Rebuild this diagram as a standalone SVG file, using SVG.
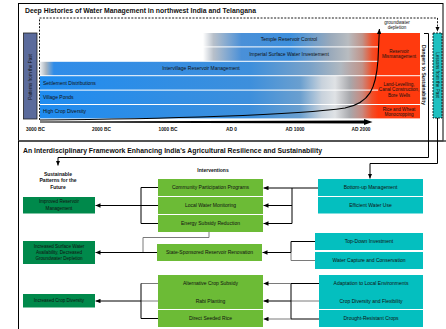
<svg xmlns="http://www.w3.org/2000/svg" width="446" height="329" viewBox="0 0 446 329">
  <defs>
    <style>
      text { font-family: "Liberation Sans", Arial, sans-serif; fill: #111; }
      .title { font-size: 6.6px; font-weight: bold; }
      .lbl { font-size: 5px; }
      .small { font-size: 4.6px; }
      .bold { font-weight: bold; }
      .axis { font-size: 4.8px; font-weight: bold; }
      .mid { text-anchor: middle; }
      .ln { fill: none; stroke: #000; stroke-width: 1; }
      .gray { fill: none; stroke: #7a7a7a; stroke-width: 1; }
      .dash { fill: none; stroke: #000; stroke-width: 0.9; stroke-dasharray: 2 1.4; }
      .green { fill: #6cbb36; }
      .dkgreen { fill: #00894b; }
      .teal { fill: #04bfbf; }
      .red { fill: #ff3a0e; }
    </style>
    <marker id="arr" markerUnits="userSpaceOnUse" markerWidth="5" markerHeight="4.4" refX="5" refY="2.2" orient="auto">
      <path d="M0,0 L5,2.2 L0,4.4 z" fill="#000"/>
    </marker>
    <!-- band fills: blue periods fading to grey and then red near the present -->
    <linearGradient id="gLow" gradientUnits="userSpaceOnUse" x1="40" y1="0" x2="378" y2="0">
      <stop offset="0" stop-color="#1f8cf0"/>
      <stop offset="0.62" stop-color="#3d8fdc"/>
      <stop offset="0.77" stop-color="#6a9fcf"/>
      <stop offset="0.834" stop-color="#c8d2dc"/>
      <stop offset="0.873" stop-color="#dfe2e5"/>
      <stop offset="0.917" stop-color="#a8a8ac"/>
      <stop offset="0.953" stop-color="#c88a80"/>
      <stop offset="0.982" stop-color="#f0502a"/>
      <stop offset="1" stop-color="#ff3a10"/>
    </linearGradient>
    <linearGradient id="gMid" gradientUnits="userSpaceOnUse" x1="40" y1="0" x2="378" y2="0">
      <stop offset="0" stop-color="#eef0f2"/>
      <stop offset="0.018" stop-color="#a8b4c0"/>
      <stop offset="0.041" stop-color="#2f8ce8"/>
      <stop offset="0.62" stop-color="#3d8fdc"/>
      <stop offset="0.8" stop-color="#7aa2c8"/>
      <stop offset="0.89" stop-color="#b0b8c0"/>
      <stop offset="0.953" stop-color="#c0948a"/>
      <stop offset="0.982" stop-color="#f0502a"/>
      <stop offset="1" stop-color="#ff3a10"/>
    </linearGradient>
    <linearGradient id="gTop" gradientUnits="userSpaceOnUse" x1="203" y1="0" x2="378" y2="0">
      <stop offset="0" stop-color="#ffffff"/>
      <stop offset="0.06" stop-color="#b8c0ca"/>
      <stop offset="0.22" stop-color="#4a90d8"/>
      <stop offset="0.5" stop-color="#3d8fdc"/>
      <stop offset="0.73" stop-color="#9aaabb"/>
      <stop offset="0.83" stop-color="#b8bcc0"/>
      <stop offset="0.91" stop-color="#c0948a"/>
      <stop offset="0.966" stop-color="#f0502a"/>
      <stop offset="1" stop-color="#ff3a10"/>
    </linearGradient>
  </defs>

  <rect width="446" height="329" fill="#fff"/>

  <!-- upper panel: timeline -->
  <g id="history-panel">
    <rect x="18.5" y="3.5" width="424.5" height="137.5" fill="none" stroke="#000" stroke-width="1"/>
    <text class="title" x="25" y="12.6" textLength="231" lengthAdjust="spacingAndGlyphs">Deep Histories of Water Management in northwest India and Telangana</text>
  </g>

  <g id="bands">
    <rect x="203" y="33" width="175" height="13.4" fill="url(#gTop)"/>
    <rect x="203" y="47.4" width="175" height="13.4" fill="url(#gTop)"/>
    <rect x="40" y="61.8" width="338" height="13.4" fill="url(#gMid)"/>
    <rect x="40" y="76.2" width="338" height="13.4" fill="url(#gLow)"/>
    <rect x="40" y="90.6" width="338" height="13.4" fill="url(#gLow)"/>
    <rect x="40" y="105" width="338" height="13.4" fill="url(#gLow)"/>
    <text class="lbl mid" x="289" y="41.4">Temple Reservoir Control</text>
    <text class="lbl mid" x="289" y="55.8">Imperial Surface Water Investement</text>
    <text class="lbl mid" x="201" y="70.2">Intervillage Reservoir Management</text>
    <text class="lbl" x="43" y="84.6">Settlement Distributions</text>
    <text class="lbl" x="43" y="99">Village Ponds</text>
    <text class="lbl" x="43" y="113.4">High Crop Diversity</text>
  </g>

  <g id="patterns-from-the-past">
    <rect x="23.5" y="33" width="13.5" height="86" fill="#5b6b9c" stroke="#222" stroke-width="0.8"/>
    <text class="small mid" transform="translate(31.8,77) rotate(-90)">Patterns from the Past</text>
  </g>

  <g id="dangers">
    <rect class="red" x="378" y="33" width="42" height="42.2"/>
    <rect class="red" x="378" y="76.2" width="42" height="27.8"/>
    <rect class="red" x="378" y="105" width="42" height="13.4"/>
    <text class="small mid" x="399" y="52.5">Reservoir</text>
    <text class="small mid" x="399" y="58.3">Mismanagement</text>
    <text class="small mid" x="399" y="85.5">Land-Levelling,</text>
    <text class="small mid" x="399" y="91.3">Canal Construction,</text>
    <text class="small mid" x="399" y="97.1">Bore Wells</text>
    <text class="small mid" x="399" y="110.5">Rice and Wheat</text>
    <text class="small mid" x="399" y="116.3">Monocropping</text>
    <text class="small mid" x="397" y="23.6">groundwater</text>
    <text class="small mid" x="397" y="29.4">depletion</text>
    <text class="lbl mid bold" transform="translate(421.8,75) rotate(90)">Dangers to Sustainability</text>
  </g>

  <g id="lessons-from-the-past">
    <rect x="433" y="33" width="9" height="85" fill="#1fc0c0" stroke="#000" stroke-width="0.8" stroke-dasharray="2 1"/>
    <text class="small mid" transform="translate(435.8,75) rotate(90)">Lessons from the Past</text>
  </g>

  <g id="timeline-axis">
    <path d="M40,120 C160,119 300,115 345,108 C370,103 376,88 378,60 L379.4,29" fill="none" stroke="#000" stroke-width="1.1" marker-end="url(#arr)"/>
    <polygon points="40,121.6 365,120.5 365,123.5 40,122.4" fill="#000"/>
    <polygon points="364,119 372.5,122 364,125" fill="#000"/>
    <text class="axis mid" x="35.5" y="131">3000 BC</text>
    <text class="axis mid" x="101.5" y="131">2000 BC</text>
    <text class="axis mid" x="168" y="131">1000 BC</text>
    <text class="axis mid" x="231.5" y="131">AD 0</text>
    <text class="axis mid" x="295" y="131">AD 1000</text>
    <text class="axis mid" x="361" y="131">AD 2000</text>
  </g>

  <!-- lower panel: framework -->
  <g id="framework-panel">
    <line x1="18" y1="141" x2="446" y2="141" stroke="#444" stroke-width="1.6"/>
    <line x1="18.5" y1="141" x2="18.5" y2="329" stroke="#000" stroke-width="1"/>
    <text class="title" x="23" y="152.6" textLength="299" lengthAdjust="spacingAndGlyphs">An Interdisciplinary Framework Enhancing India's Agricultural Resilience and Sustainability</text>
    <text class="lbl bold mid" x="58" y="175.8">Sustainable</text>
    <text class="lbl bold mid" x="58" y="182.4">Patterns for the</text>
    <text class="lbl bold mid" x="58" y="189">Future</text>
    <text class="lbl bold mid" x="213" y="171.6">Interventions</text>
  </g>

  <g id="outcome-reservoir">
    <rect class="dkgreen" x="23" y="197" width="72" height="16.5"/>
    <text class="small mid" x="59" y="203.3">Improved Reservoir</text>
    <text class="small mid" x="59" y="209.5">Management</text>
  </g>
  <g id="outcome-surface-water">
    <rect class="dkgreen" x="23" y="241" width="72" height="23"/>
    <text class="small mid" x="59" y="248.3">Increased Surface Water</text>
    <text class="small mid" x="59" y="254.2">Availability, Decreased</text>
    <text class="small mid" x="59" y="260.1">Groundwater Depletion</text>
  </g>
  <g id="outcome-crop-diversity">
    <rect class="dkgreen" x="23" y="294" width="72" height="13.5"/>
    <text class="small mid" x="59" y="302.4">Increased Crop Diversity</text>
  </g>

  <g id="int-community">
    <rect class="green" x="158" y="179" width="105" height="17"/>
    <text class="lbl mid" x="210.5" y="189.3">Community Participation Programs</text>
  </g>
  <g id="int-monitoring">
    <rect class="green" x="158" y="197" width="105" height="17"/>
    <text class="lbl mid" x="210.5" y="207.3">Local Water Monitoring</text>
  </g>
  <g id="int-energy">
    <rect class="green" x="158" y="215" width="105" height="17"/>
    <text class="lbl mid" x="210.5" y="225.3">Energy Subsidy Reduction</text>
  </g>
  <g id="int-renovation">
    <rect class="green" x="157" y="244" width="105" height="17"/>
    <text class="lbl mid" x="209.5" y="254.3">State-Sponsored Reservoir Renovation</text>
  </g>
  <g id="int-alt-crop">
    <rect class="green" x="158" y="275" width="105" height="17"/>
    <text class="lbl mid" x="210.5" y="285.3">Alternative Crop Subsidy</text>
  </g>
  <g id="int-rabi">
    <rect class="green" x="158" y="292" width="105" height="17"/>
    <text class="lbl mid" x="210.5" y="302.8">Rabi Planting</text>
  </g>
  <g id="int-dsr">
    <rect class="green" x="158" y="310" width="105" height="17"/>
    <text class="lbl mid" x="210.5" y="320.3">Direct Seeded Rice</text>
  </g>

  <g id="lesson-bottom-up">
    <rect class="teal" x="318" y="179" width="105" height="17"/>
    <text class="lbl mid" x="370.5" y="189.3">Bottom-up Management</text>
  </g>
  <g id="lesson-efficient">
    <rect class="teal" x="318" y="197" width="105" height="16.5"/>
    <text class="lbl mid" x="370.5" y="207">Efficient Water Use</text>
  </g>
  <g id="lesson-top-down">
    <rect class="teal" x="315" y="233" width="108" height="17"/>
    <text class="lbl mid" x="369" y="243.3">Top-Down Investment</text>
  </g>
  <g id="lesson-capture">
    <rect class="teal" x="315" y="252" width="108" height="17"/>
    <text class="lbl mid" x="369" y="262.3">Water Capture and Conservation</text>
  </g>
  <g id="lesson-adaptation">
    <rect class="teal" x="319" y="275" width="104" height="17"/>
    <text class="lbl mid" x="371" y="285.3">Adaptation to Local Environments</text>
  </g>
  <g id="lesson-flexibility">
    <rect class="teal" x="319" y="292" width="104" height="17"/>
    <text class="lbl mid" x="371" y="302.8">Crop Diversity and Flexibility</text>
  </g>
  <g id="lesson-drought">
    <rect class="teal" x="319" y="310" width="104" height="17"/>
    <text class="lbl mid" x="371" y="320.3">Drought-Resistant Crops</text>
  </g>

  <g id="connectors">
    <path class="dash" d="M39.5,120 V18 H437.5 V31.5" marker-end="url(#arr)"/>
    <path class="ln" d="M424,33.5 H428.5 V157.5 H58 V165.5" marker-end="url(#arr)"/>
    <path class="ln" d="M437.5,118 V163.5 H370 V178.5" marker-end="url(#arr)"/>

    <path class="ln" d="M318,188 H292 V223.5"/>
    <path class="ln" d="M292,188 H263.5" marker-end="url(#arr)"/>
    <path class="ln" d="M292,205.5 H263.5" marker-end="url(#arr)"/>
    <path class="ln" d="M292,223.5 H263.5" marker-end="url(#arr)"/>

    <path class="ln" d="M158,187.5 H141 V223.5 H158"/>
    <path class="ln" d="M158,205.5 H95.5" marker-end="url(#arr)"/>

    <path class="gray" d="M209,232 V237.5 H143 V252.5"/>
    <path class="ln" d="M157,252.5 H95.5" marker-end="url(#arr)"/>

    <path class="ln" d="M315,241.5 H291 V252.5"/>
    <path class="gray" d="M315,260.5 H291 V252.5"/>
    <path class="ln" d="M291,252.5 H262.5" marker-end="url(#arr)"/>

    <path class="ln" d="M319,283.5 H291"/>
    <path class="gray" d="M319,301 H291"/>
    <path class="ln" d="M319,319 H291"/>
    <path class="ln" d="M291,283.5 V319"/>
    <path class="gray" d="M291,283.5 H263.5" marker-end="url(#arr)"/>
    <path class="ln" d="M291,301 H263.5" stroke-width="1.5" marker-end="url(#arr)"/>
    <path class="gray" d="M291,319 H263.5" marker-end="url(#arr)"/>

    <path class="gray" d="M158,283.5 H141"/>
    <path class="gray" d="M158,301 H141"/>
    <path class="ln" d="M158,318.5 H141 V283.5"/>
    <path class="ln" d="M141,301 H95.5" stroke-width="1.5" marker-end="url(#arr)"/>
  </g>
</svg>
